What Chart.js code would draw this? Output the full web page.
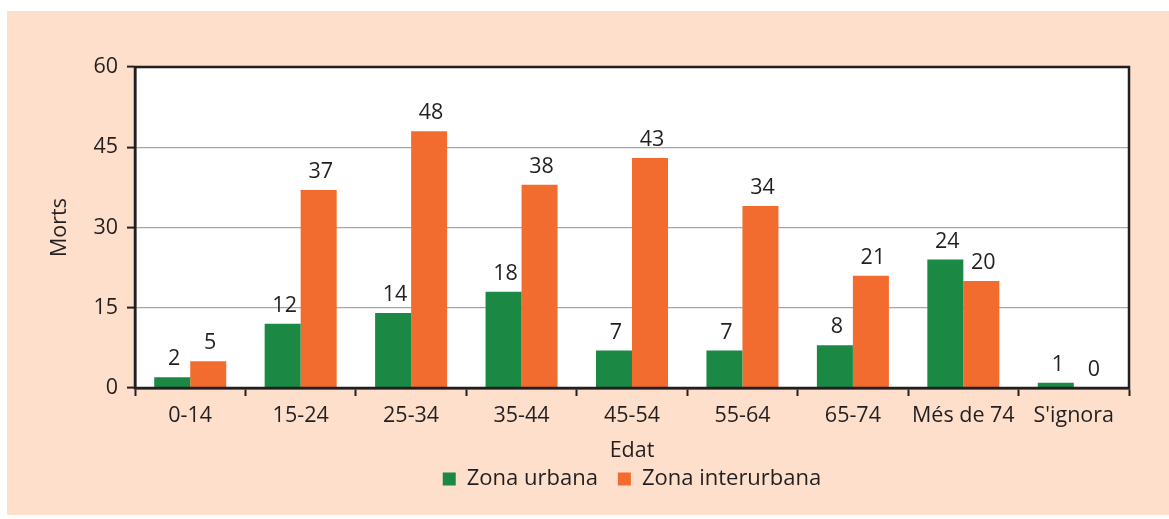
<!DOCTYPE html>
<html>
<head>
<meta charset="utf-8">
<script src="https://cdn.jsdelivr.net/npm/chart.js@4/dist/chart.umd.min.js"></script>
<style>
  html, body { margin: 0; padding: 0; background: #ffffff; }
  canvas { display: block; }
</style>
</head>
<body>
<canvas id="chart" width="1169" height="519"></canvas>
<script>
// Road deaths by age group, urban vs interurban zone
const categories = ['0-14', '15-24', '25-34', '35-44', '45-54', '55-64', '65-74', 'Més de 74', "S'ignora"];
const urbanDeaths = [2, 12, 14, 18, 7, 7, 8, 24, 1];
const interurbanDeaths = [5, 37, 48, 38, 43, 34, 21, 20, 0];
const yTicks = [0, 15, 30, 45, 60];

const TEXT = '#231f20';
const GREEN = '#1b8944';
const ORANGE = '#f26c2f';
const PEACH = '#fddfcb';
const FONT = "'Open Sans', 'Noto Sans', sans-serif";
const SIZE = 21.5;

// Panel background behind the chart
const panelBackground = {
  id: 'panelBackground',
  beforeDraw(chart) {
    const ctx = chart.ctx;
    ctx.save();
    ctx.fillStyle = '#ffffff';
    ctx.fillRect(0, 0, chart.width, chart.height);
    ctx.fillStyle = PEACH;
    ctx.fillRect(7, 11, chart.width - 7, 504);
    const a = chart.chartArea;
    ctx.fillStyle = '#ffffff';
    ctx.fillRect(a.left, a.top, a.right - a.left, a.bottom - a.top);
    ctx.restore();
  }
};

// Dark frame around the plot area
const plotFrame = {
  id: 'plotFrame',
  afterDatasetsDraw(chart) {
    const a = chart.chartArea;
    const ctx = chart.ctx;
    ctx.save();
    ctx.strokeStyle = TEXT;
    ctx.lineWidth = 2.5;
    ctx.strokeRect(a.left, a.top, a.right - a.left, a.bottom - a.top);
    ctx.restore();
  }
};

// Value labels above every bar
const valueLabels = {
  id: 'valueLabels',
  afterDatasetsDraw(chart) {
    const ctx = chart.ctx;
    ctx.save();
    ctx.font = SIZE + 'px ' + FONT;
    ctx.fillStyle = TEXT;
    ctx.textAlign = 'center';
    ctx.textBaseline = 'alphabetic';
    chart.data.datasets.forEach((ds, i) => {
      const meta = chart.getDatasetMeta(i);
      meta.data.forEach((bar, j) => {
        ctx.fillText(String(ds.data[j]), bar.x + 2, bar.y - 12);
      });
    });
    ctx.restore();
  }
};

// Centre the legend under the plot area
const legendPlacement = {
  id: 'legendPlacement',
  afterLayout(chart) {
    const lg = chart.legend;
    if (!lg) return;
    const a = chart.chartArea;
    const h = lg.height;
    lg.left = a.left;
    lg.right = a.right;
    lg.width = a.right - a.left;
    lg.top = 448;
    lg.bottom = 448 + h;
  }
};

new Chart(document.getElementById('chart'), {
  type: 'bar',
  data: {
    labels: categories,
    datasets: [
      {
        label: 'Zona urbana',
        data: urbanDeaths,
        backgroundColor: GREEN,
        borderColor: GREEN,
        borderWidth: 0,
        categoryPercentage: 0.652,
        barPercentage: 1.0
      },
      {
        label: 'Zona interurbana',
        data: interurbanDeaths,
        backgroundColor: ORANGE,
        borderColor: ORANGE,
        borderWidth: 0,
        categoryPercentage: 0.652,
        barPercentage: 1.0
      }
    ]
  },
  options: {
    responsive: false,
    animation: false,
    devicePixelRatio: 1,
    layout: { padding: { left: 0, top: 67, right: 40, bottom: 3 } },
    plugins: {
      tooltip: { enabled: false },
      legend: {
        position: 'bottom',
        align: 'center',
        labels: {
          boxWidth: 13,
          boxHeight: 13,
          padding: 20,
          color: TEXT,
          font: { family: FONT, size: 22 }
        }
      }
    },
    scales: {
      x: {
        offset: true,
        grid: {
          offset: true,
          drawOnChartArea: false,
          drawTicks: true,
          tickLength: 8,
          tickWidth: 2,
          tickColor: TEXT
        },
        border: { display: true, color: TEXT, width: 2.5 },
        ticks: {
          color: TEXT,
          padding: 7,
          maxRotation: 0,
          autoSkip: false,
          font: { family: FONT, size: SIZE }
        },
        title: {
          display: true,
          text: 'Edat',
          color: TEXT,
          font: { family: FONT, size: SIZE },
          padding: { top: 0, bottom: 0 }
        },
        afterFit(scale) { scale.height = 76; }
      },
      y: {
        min: yTicks[0],
        max: yTicks[yTicks.length - 1],
        afterBuildTicks(scale) { scale.ticks = yTicks.map(v => ({ value: v })); },
        grid: {
          color: '#a6a6a6',
          lineWidth: 1.2,
          drawTicks: true,
          tickLength: 8,
          tickWidth: 2,
          tickColor: TEXT
        },
        border: { display: true, color: TEXT, width: 2.5 },
        ticks: {
          color: TEXT,
          padding: 9,
          font: { family: FONT, size: SIZE }
        },
        title: {
          display: true,
          text: 'Morts',
          color: TEXT,
          font: { family: FONT, size: SIZE },
          padding: { top: 47, bottom: 0 }
        },
        afterFit(scale) { scale.width = 135; }
      }
    }
  },
  plugins: [panelBackground, plotFrame, valueLabels, legendPlacement]
});
</script>
</body>
</html>
